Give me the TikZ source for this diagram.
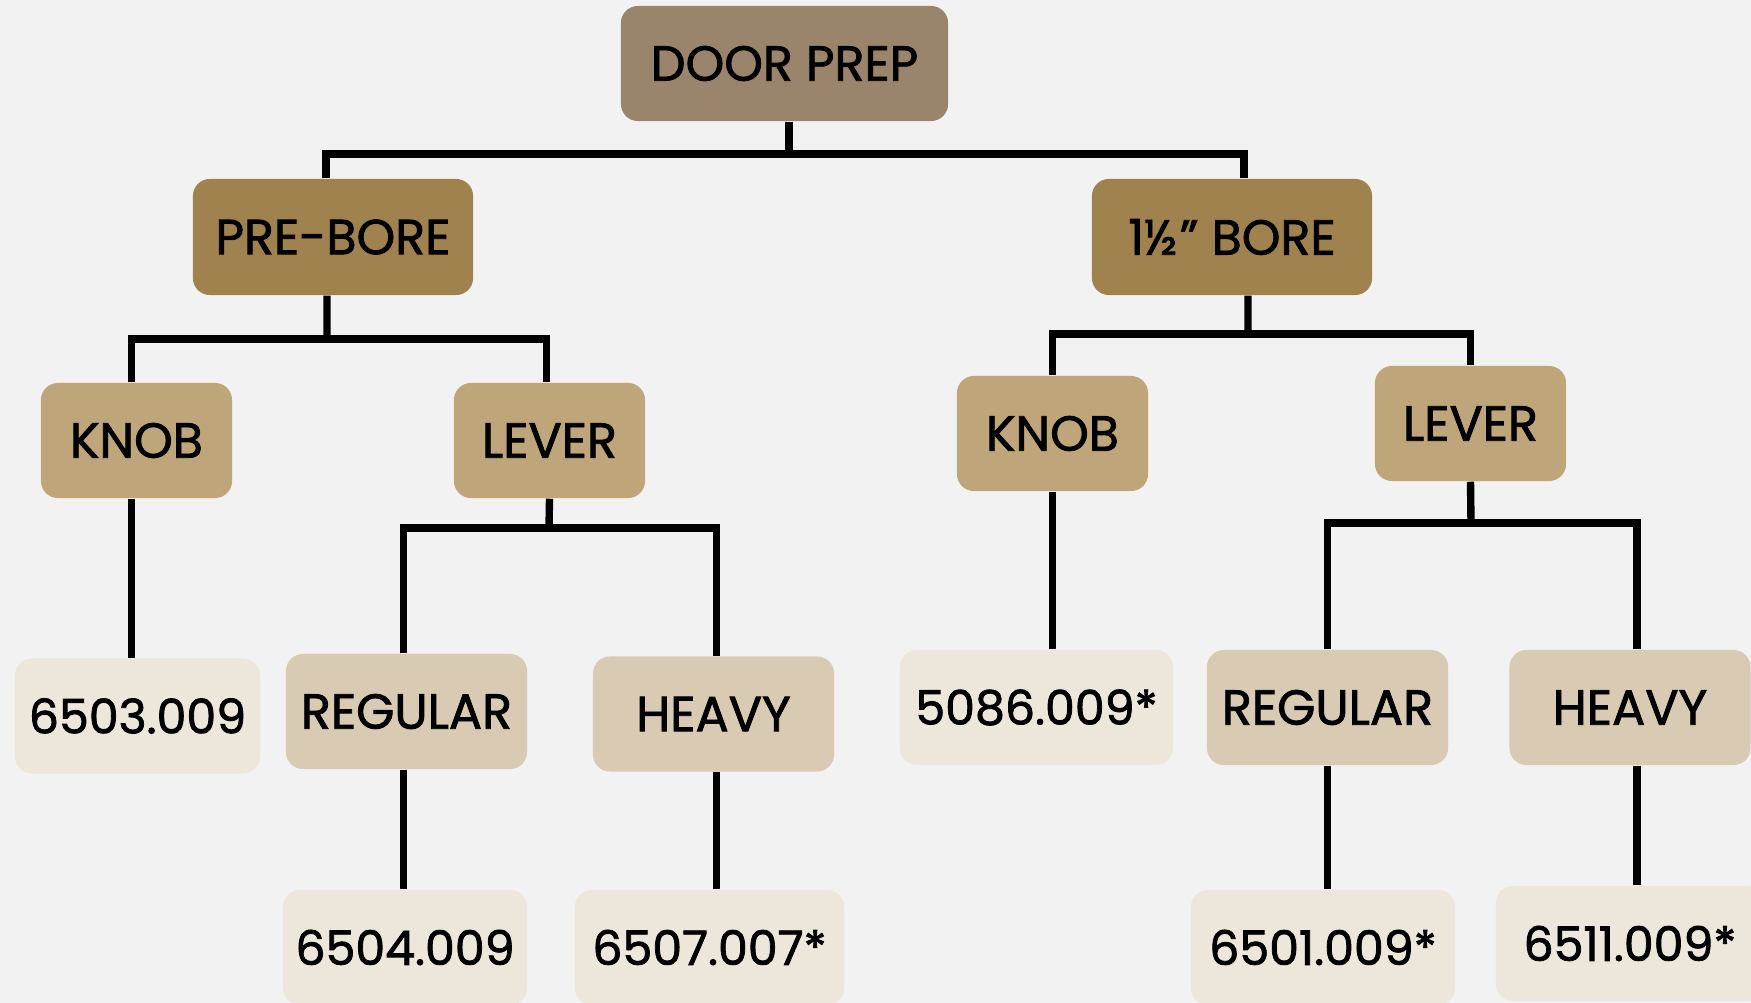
\documentclass[tikz,border=0pt]{standalone}
\usepackage{fontspec}
\setmainfont{Poppins}
\newfontfamily\boxfont{Poppins}[FakeBold=1.6]
\usepackage{tikz}
\usetikzlibrary{positioning, calc}
\definecolor{pagegrey}{HTML}{F2F2F2}
\definecolor{prepbrown}{HTML}{9B846C}
\definecolor{borebrown}{HTML}{A0824F}
\definecolor{typetan}{HTML}{BFA57A}
\definecolor{dutysand}{HTML}{D9CAB3}
\definecolor{numcream}{HTML}{EDE7DB}

\begin{document}
\begin{tikzpicture}[
    x=0.01cm, y=-0.01cm,
    box/.style={rectangle, rounded corners=0.17cm, inner sep=0pt, minimum height=1.15cm, font=\boxfont\fontsize{14}{16}\selectfont, text=black},
    prepbox/.style={box, fill=prepbrown, minimum width=3.27cm},
    borebox/.style={box, fill=borebrown, minimum width=2.8cm, minimum height=1.16cm},
    typebox/.style={box, fill=typetan, minimum width=1.91cm},
    dutybox/.style={box, fill=dutysand, minimum width=2.41cm},
    numbox/.style={box, fill=numcream, font=\boxfont\fontsize{13.5}{16}\selectfont},
    link/.style={line width=2.1pt, black}
]
\fill[pagegrey] (0,0) rectangle (1751,1003);
\useasboundingbox (0,0) rectangle (1751,1003);
\clip (0,0) rectangle (1751,1003);

% top levels
\node[prepbox] (prep) at (784.5,63.5) {DOOR PREP};
\node[borebox] (prebore) at (333,237) {PRE-BORE};
\node[borebox] (bore) at (1232,237) {1½\kern0.05em\textquotedblright\ BORE};

% pre-bore side
\node[typebox] (knobA) at (136.5,440.5) {KNOB};
\node[typebox] (leverA) at (549.5,440.5) {LEVER};
\node[numbox, minimum width=2.45cm] (numA) at (137.5,716) {6503.009};
\node[dutybox] (regA) at (406.5,711.5) {REGULAR};
\node[dutybox] (heavyA) at (713.5,714) {HEAVY};
\node[numbox, minimum width=2.44cm] (numB) at (405,947.5) {6504.009};
\node[numbox, minimum width=2.69cm] (numC) at (709.5,947.5) {6507.007*};

% 1 1/2 bore side
\node[typebox] (knobB) at (1052.5,433.5) {KNOB};
\node[typebox] (leverB) at (1470.5,423.5) {LEVER};
\node[numbox, minimum width=2.73cm] (numD) at (1036.5,707.5) {5086.009*};
\node[dutybox] (regB) at (1327.5,707.5) {REGULAR};
\node[dutybox] (heavyB) at (1630,707.5) {HEAVY};
\node[numbox, minimum width=2.64cm] (numE) at (1323,947.5) {6501.009*};
\node[numbox, minimum width=2.68cm] (numF) at (1630,943.5) {6511.009*};

% connectors
\coordinate (splitTop) at (789,154);
\draw[link] (prep.south -| splitTop) -- (splitTop);
\draw[link] ([xshift=-0.07cm]prebore.north) |- (splitTop) -| ([xshift=0.12cm]bore.north);

\coordinate (splitA) at (327,339);
\draw[link] ([xshift=-0.06cm]prebore.south) -- (splitA);
\draw[link] ([xshift=-0.05cm]knobA.north) |- (splitA) -| ([xshift=-0.03cm]leverA.north);
\draw[link] ([xshift=-0.05cm]knobA.south) -- ([xshift=-0.05cm]knobA.south |- numA.north);

\coordinate (splitB) at (549,528);
\draw[link] (leverA.south) -- (splitB);
\draw[link] ([xshift=-0.03cm]regA.north) |- (splitB) -| ([xshift=0.03cm]heavyA.north);
\draw[link] ([xshift=-0.03cm]regA.south) -- ([xshift=-0.03cm]regA.south |- numB.north);
\draw[link] ([xshift=0.03cm]heavyA.south) -- ([xshift=0.03cm]heavyA.south |- numC.north);

\coordinate (splitC) at (1248,334);
\draw[link] ([xshift=0.16cm]bore.south) -- (splitC);
\draw[link] (knobB.north) |- (splitC) -| (leverB.north);
\draw[link] (knobB.south) -- (knobB.south |- numD.north);

\coordinate (splitD) at (1471,523);
\draw[link] (leverB.south) -- (splitD);
\draw[link] (regB.north) |- (splitD) -| ([xshift=0.07cm]heavyB.north);
\draw[link] (regB.south) -- (regB.south |- numE.north);
\draw[link] ([xshift=0.07cm]heavyB.south) -- ([xshift=0.07cm]heavyB.south |- numF.north);
\end{tikzpicture}
\end{document}
